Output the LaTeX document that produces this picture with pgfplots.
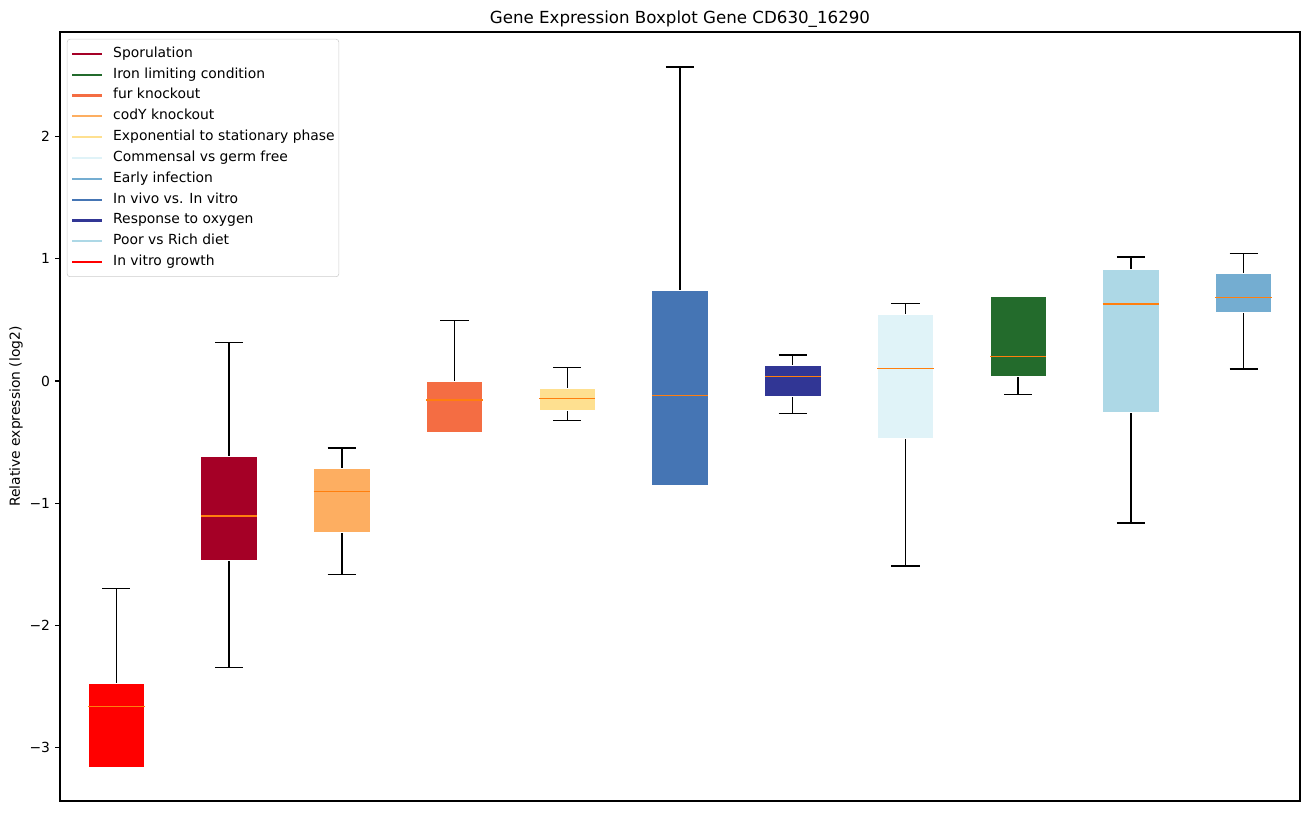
\documentclass[border=0pt]{standalone}
\usepackage{fontspec}
\setmainfont{DejaVu Sans}
\usepackage{pgfplots}
\pgfplotsset{compat=1.18}
\definecolor{cSpor}{HTML}{A50026}
\definecolor{cIron}{HTML}{236B2C}
\definecolor{cFur}{HTML}{F46D43}
\definecolor{cCodY}{HTML}{FDAE61}
\definecolor{cExp}{HTML}{FEE090}
\definecolor{cComm}{HTML}{E0F3F8}
\definecolor{cEarly}{HTML}{74ADD1}
\definecolor{cVivo}{HTML}{4575B4}
\definecolor{cOxy}{HTML}{313695}
\definecolor{cDiet}{HTML}{ADD8E6}
\definecolor{cVitro}{HTML}{FF0000}
\definecolor{cMed}{HTML}{FF7F0E}
\begin{document}
\begin{tikzpicture}
\useasboundingbox (-43.2pt,-7.92pt) rectangle (899.28pt,576.72pt);
\begin{axis}[
  scale only axis,
  width=892.8pt, height=553.68pt,
  xmin=0.5, xmax=11.5,
  ymin=-3.438, ymax=2.857,
  xtick=\empty,
  ytick={-3,-2,-1,0,1,2},
  yticklabels={−3,−2,−1,0,1,2},
  ytick pos=left,
  tick align=outside,
  major tick length=3.5pt,
  every tick/.style={black, line width=0.8pt},
  axis line style={line width=0.8pt},
  tick label style={font=\fontsize{10}{12}\selectfont},
  yticklabel style={inner xsep=0pt, xshift=-3.5pt},
  title={Gene Expression Boxplot Gene CD630\_16290},
  every axis title/.style={at={(0.5,1)}, anchor=base, yshift=6pt, font=\fontsize{12}{14}\selectfont},
  ylabel={Relative expression (log2)},
  ylabel style={at={(axis description cs:-0.0355,0.5)}, anchor=center, font=\fontsize{10}{12}\selectfont},
  unbounded coords=jump,
  legend cell align=left,
  legend image code/.code={\draw[#1] (0pt,0pt) -- (21.6pt,0pt);},
  legend style={at={(axis description cs:0,1)}, anchor=north west, xshift=5pt, yshift=-5pt,
    draw=black!20, rounded corners=2pt, fill=white, fill opacity=0.8, text opacity=1,
    inner xsep=3pt, inner ysep=3pt, row sep=0pt,
    font=\fontsize{10}{12}\selectfont,
    nodes={inner xsep=0pt, inner ysep=2.5pt, text height=7.5pt, text depth=2.5pt},
    /tikz/every odd column/.append style={column sep=7pt}},
  boxst/.style={forget plot, draw=white, line width=0.6pt, fill=#1, mark=none},
]
\addlegendimage{cSpor, line width=1.5pt}\addlegendentry{Sporulation}
\addlegendimage{cIron, line width=1.5pt}\addlegendentry{Iron limiting condition}
\addlegendimage{cFur, line width=1.5pt}\addlegendentry{fur knockout}
\addlegendimage{cCodY, line width=1.5pt}\addlegendentry{codY knockout}
\addlegendimage{cExp, line width=1.5pt}\addlegendentry{Exponential to stationary phase}
\addlegendimage{cComm, line width=1.5pt}\addlegendentry{Commensal vs germ free}
\addlegendimage{cEarly, line width=1.5pt}\addlegendentry{Early infection}
\addlegendimage{cVivo, line width=1.5pt}\addlegendentry{In vivo vs. In vitro}
\addlegendimage{cOxy, line width=1.5pt}\addlegendentry{Response to oxygen}
\addlegendimage{cDiet, line width=1.5pt}\addlegendentry{Poor vs Rich diet}
\addlegendimage{cVitro, line width=1.5pt}\addlegendentry{In vitro growth}

% whiskers and caps (lower whisker, Q1, Q3, upper whisker)
\addplot[forget plot, black, line width=1pt, mark=none] coordinates {
 (1,-3.164) (1,-3.164) (1,nan) (0.875,-3.164) (1.125,-3.164) (1,nan) (1,-2.474) (1,-1.697) (1,nan) (0.875,-1.697) (1.125,-1.697) (1,nan)
 (2,-1.465) (2,-2.343) (2,nan) (1.875,-2.343) (2.125,-2.343) (2,nan) (2,-0.619) (2,0.317) (2,nan) (1.875,0.317) (2.125,0.317) (2,nan)
 (3,-1.241) (3,-1.582) (3,nan) (2.875,-1.582) (3.125,-1.582) (3,nan) (3,-0.717) (3,-0.548) (3,nan) (2.875,-0.548) (3.125,-0.548) (3,nan)
 (4,-0.423) (4,-0.423) (4,nan) (3.875,-0.423) (4.125,-0.423) (4,nan) (4,0.0) (4,0.497) (4,nan) (3.875,0.497) (4.125,0.497) (4,nan)
 (5,-0.240) (5,-0.322) (5,nan) (4.875,-0.322) (5.125,-0.322) (5,nan) (5,-0.060) (5,0.112) (5,nan) (4.875,0.112) (5.125,0.112) (5,nan)
 (6,-0.851) (6,-0.851) (6,nan) (5.875,-0.851) (6.125,-0.851) (6,nan) (6,0.739) (6,2.570) (6,nan) (5.875,2.570) (6.125,2.570) (6,nan)
 (7,-0.123) (7,-0.265) (7,nan) (6.875,-0.265) (7.125,-0.265) (7,nan) (7,0.125) (7,0.213) (7,nan) (6.875,0.213) (7.125,0.213) (7,nan)
 (8,-0.472) (8,-1.514) (8,nan) (7.875,-1.514) (8.125,-1.514) (8,nan) (8,0.543) (8,0.636) (8,nan) (7.875,0.636) (8.125,0.636) (8,nan)
 (9,0.035) (9,-0.109) (9,nan) (8.875,-0.109) (9.125,-0.109) (9,nan) (9,0.690) (9,0.690) (9,nan) (8.875,0.690) (9.125,0.690) (9,nan)
 (10,-0.254) (10,-1.162) (10,nan) (9.875,-1.162) (10.125,-1.162) (10,nan) (10,0.917) (10,1.015) (10,nan) (9.875,1.015) (10.125,1.015) (10,nan)
 (11,0.559) (11,0.098) (11,nan) (10.875,0.098) (11.125,0.098) (11,nan) (11,0.878) (11,1.045) (11,nan) (10.875,1.045) (11.125,1.045)
};

% boxes (Q1 to Q3)
\addplot[boxst=cVitro] coordinates {(0.75,-3.164) (1.25,-3.164) (1.25,-2.474) (0.75,-2.474)} -- cycle;
\addplot[boxst=cSpor]  coordinates {(1.75,-1.465) (2.25,-1.465) (2.25,-0.619) (1.75,-0.619)} -- cycle;
\addplot[boxst=cCodY]  coordinates {(2.75,-1.241) (3.25,-1.241) (3.25,-0.717) (2.75,-0.717)} -- cycle;
\addplot[boxst=cFur]   coordinates {(3.75,-0.423) (4.25,-0.423) (4.25,0.0) (3.75,0.0)} -- cycle;
\addplot[boxst=cExp]   coordinates {(4.75,-0.240) (5.25,-0.240) (5.25,-0.060) (4.75,-0.060)} -- cycle;
\addplot[boxst=cVivo]  coordinates {(5.75,-0.851) (6.25,-0.851) (6.25,0.739) (5.75,0.739)} -- cycle;
\addplot[boxst=cOxy]   coordinates {(6.75,-0.123) (7.25,-0.123) (7.25,0.125) (6.75,0.125)} -- cycle;
\addplot[boxst=cComm]  coordinates {(7.75,-0.472) (8.25,-0.472) (8.25,0.543) (7.75,0.543)} -- cycle;
\addplot[boxst=cIron]  coordinates {(8.75,0.035) (9.25,0.035) (9.25,0.690) (8.75,0.690)} -- cycle;
\addplot[boxst=cDiet]  coordinates {(9.75,-0.254) (10.25,-0.254) (10.25,0.917) (9.75,0.917)} -- cycle;
\addplot[boxst=cEarly] coordinates {(10.75,0.559) (11.25,0.559) (11.25,0.878) (10.75,0.878)} -- cycle;

% medians
\addplot[forget plot, cMed, line width=1pt, mark=none] coordinates {
 (0.75,-2.662) (1.25,-2.662) (1,nan)
 (1.75,-1.105) (2.25,-1.105) (2,nan)
 (2.75,-0.903) (3.25,-0.903) (3,nan)
 (3.75,-0.155) (4.25,-0.155) (4,nan)
 (4.75,-0.142) (5.25,-0.142) (5,nan)
 (5.75,-0.117) (6.25,-0.117) (6,nan)
 (6.75,0.038) (7.25,0.038) (7,nan)
 (7.75,0.104) (8.25,0.104) (8,nan)
 (8.75,0.202) (9.25,0.202) (9,nan)
 (9.75,0.630) (10.25,0.630) (10,nan)
 (10.75,0.685) (11.25,0.685)
};
\end{axis}
\end{tikzpicture}
\end{document}
